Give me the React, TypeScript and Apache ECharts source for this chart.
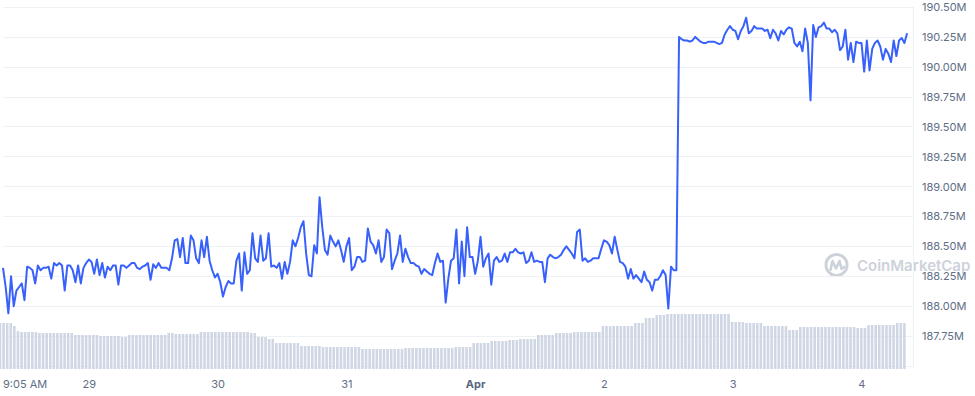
import React, { useEffect, useRef } from 'react';
import * as echarts from 'echarts';

// Time is measured in hours since Mar 28, 00:00
const START_HOUR = 7.93;
const X_MAX = 177.53;
const PRICE_STEP_HOURS = 0.5;
const VOLUME_STEP_HOURS = 2 / 3;

const xTickHours = [7.93, 24, 48, 72, 96, 120, 144, 168];
const xTickLabels = ['9:05 AM', '29', '30', '31', 'Apr', '2', '3', '4'];

const Y_MIN = 187.5;
const Y_MAX = 190.5;
const Y_INTERVAL = 0.25;

// Market cap (M USD), one reading every 30 minutes
const priceValues = [
  188.32, 188.16, 187.94, 188.25, 188.00, 188.13, 188.16, 188.19, 188.05, 188.33,
  188.32, 188.30, 188.19, 188.34, 188.30, 188.32, 188.32, 188.33, 188.23, 188.36,
  188.34, 188.36, 188.34, 188.13, 188.34, 188.34, 188.30, 188.20, 188.34, 188.19,
  188.32, 188.36, 188.39, 188.37, 188.27, 188.39, 188.26, 188.36, 188.24, 188.33,
  188.30, 188.34, 188.34, 188.18, 188.34, 188.34, 188.32, 188.34, 188.36, 188.36,
  188.32, 188.31, 188.33, 188.34, 188.36, 188.22, 188.35, 188.32, 188.36, 188.32,
  188.32, 188.32,
  188.30, 188.40, 188.55, 188.56, 188.41, 188.57, 188.36, 188.36, 188.59, 188.55,
  188.40, 188.36, 188.55, 188.41, 188.58, 188.38, 188.30, 188.24, 188.27, 188.20,
  188.08, 188.16, 188.21, 188.19, 188.19, 188.38, 188.44, 188.13, 188.45, 188.27,
  188.30, 188.61, 188.40, 188.37, 188.59, 188.38, 188.40, 188.61, 188.33, 188.34,
  188.32, 188.36, 188.23, 188.37, 188.27, 188.37, 188.55, 188.50, 188.57, 188.66,
  188.71, 188.44, 188.26, 188.25, 188.51, 188.44, 188.91, 188.66, 188.47,
  188.43, 188.59, 188.54, 188.50, 188.55, 188.47, 188.37, 188.50, 188.57, 188.30,
  188.33, 188.41, 188.41, 188.37, 188.38, 188.65, 188.54, 188.51, 188.44, 188.55,
  188.37, 188.41, 188.64, 188.61, 188.31, 188.38, 188.44, 188.59, 188.37, 188.48,
  188.41, 188.36, 188.36, 188.34, 188.33, 188.27, 188.31, 188.29, 188.27, 188.26,
  188.36, 188.44, 188.37, 188.38, 188.03, 188.23, 188.38, 188.40, 188.64, 188.19,
  188.54, 188.25, 188.66, 188.41, 188.41, 188.27, 188.38, 188.58, 188.33, 188.40,
  188.44, 188.18, 188.38, 188.41, 188.37, 188.38, 188.44, 188.37, 188.45, 188.45,
  188.48, 188.45, 188.44, 188.45, 188.36, 188.38, 188.45, 188.37, 188.38, 188.37,
  188.37, 188.20, 188.40, 188.43, 188.41, 188.40, 188.41, 188.43, 188.47, 188.50,
  188.47, 188.44, 188.40, 188.62, 188.64, 188.38, 188.40, 188.37, 188.38, 188.40,
  188.40, 188.40, 188.48, 188.55, 188.54, 188.51, 188.44, 188.58, 188.47, 188.37,
  188.36, 188.33, 188.23, 188.31, 188.23, 188.26, 188.23, 188.20, 188.29, 188.22,
  188.20, 188.13, 188.22, 188.22, 188.25, 188.30, 188.26, 187.98, 188.33, 188.30,
  188.30,
  190.25, 190.23, 190.22, 190.22, 190.21, 190.22, 190.25, 190.23, 190.21, 190.20,
  190.20, 190.21, 190.21, 190.21, 190.20, 190.19, 190.20, 190.27, 190.31, 190.34,
  190.31, 190.30, 190.23, 190.30, 190.34, 190.41, 190.28, 190.30, 190.34, 190.32,
  190.32, 190.32, 190.30, 190.31, 190.24, 190.31, 190.28, 190.22, 190.30, 190.27,
  190.31, 190.33, 190.32, 190.20, 190.17, 190.21, 190.13, 190.32, 190.20, 189.72,
  190.35, 190.25, 190.33, 190.34, 190.37, 190.32, 190.32, 190.29, 190.31, 190.28,
  190.14, 190.17, 190.31, 190.06, 190.20, 190.04, 190.21, 190.20, 190.20, 189.96,
  190.22, 189.97, 190.15, 190.20, 190.22, 190.17, 190.06, 190.15, 190.11, 190.04,
  190.22, 190.09, 190.22, 190.24, 190.20, 190.28,
];

// Volume (relative units), one bar every 40 minutes
const volumeValues = [
  46, 46, 46, 46, 43, 38, 37, 37, 37, 37,
  37, 36, 36, 36, 36, 36, 36, 36, 36, 36,
  36, 34, 34, 34, 34, 34, 34, 34, 33, 33,
  33, 33, 33, 33, 32, 32, 34, 34, 34, 34,
  34, 34, 34, 34, 34, 34, 34, 36, 36, 35,
  35, 35, 35, 35, 35, 35, 37, 37, 37, 37,
  37, 37, 37, 37, 37, 37, 37, 37, 37, 37,
  36, 36, 32, 32, 32, 30, 30, 26, 26, 26,
  26, 26, 26, 26, 23, 23, 23, 23, 23, 23,
  22, 22, 22, 22, 22, 22, 22, 22, 22, 22,
  22, 20, 20, 20, 20, 20, 20, 20, 20, 20,
  20, 20, 20, 21, 21, 21, 21, 21, 21, 21,
  21, 21, 21, 21, 21, 21, 21, 22, 22, 22,
  22, 22, 26, 26, 26, 26, 26, 28, 28, 28,
  28, 28, 29, 29, 29, 30, 30, 30, 30, 30,
  34, 34, 34, 34, 34, 36, 36, 36, 36, 36,
  37, 37, 37, 37, 37, 37, 37, 37, 43, 43,
  43, 43, 43, 43, 43, 43, 43, 46, 46, 46,
  51, 51, 51, 54, 54, 54, 55, 55, 55, 55,
  55, 55, 55, 55, 55, 55, 55, 55, 55, 55,
  55, 55, 55, 55, 47, 47, 47, 47, 46, 46,
  46, 46, 46, 43, 43, 43, 43, 43, 43, 43,
  39, 39, 39, 42, 42, 42, 42, 42, 42, 42,
  42, 42, 42, 42, 42, 42, 42, 42, 42, 41,
  41, 41, 44, 44, 44, 44, 44, 44, 44, 44,
  46, 46, 46,
];

const LINE_COLOR = '#3861fb';
const BAR_COLOR = '#cfd6e4';
const LABEL_COLOR = '#616e85';
const GRID_COLOR = '#eff2f5';
const WATERMARK_COLOR = '#cdd2da';
const FONT = 'Inter, "Noto Sans", sans-serif';

const App: React.FC = () => {
  const ref = useRef<HTMLDivElement>(null);

  useEffect(() => {
    if (!ref.current) return;
    const chart = echarts.init(ref.current, undefined, { renderer: 'svg' });

    const priceData = priceValues.map((v, i) => [START_HOUR + i * PRICE_STEP_HOURS, v]);
    const volumeData = volumeValues.map((v, i) => [START_HOUR + i * VOLUME_STEP_HOURS, v]);

    const labelFor = (value: number) => {
      let best = -1;
      let bestDiff = Infinity;
      xTickHours.forEach((h, i) => {
        const d = Math.abs(h - value);
        if (d < bestDiff) {
          bestDiff = d;
          best = i;
        }
      });
      if (best < 0 || bestDiff > 0.01) return '';
      const txt = xTickLabels[best];
      return txt === 'Apr' ? '{b|Apr}' : txt;
    };

    chart.setOption({
      animation: false,
      backgroundColor: '#ffffff',
      textStyle: { fontFamily: FONT },
      grid: [
        { left: 0, right: 62, top: 7, bottom: 30, containLabel: false },
        { left: 0, right: 62, bottom: 27, height: 100, containLabel: false },
      ],
      xAxis: [
        {
          type: 'value',
          gridIndex: 0,
          min: START_HOUR,
          max: X_MAX,
          axisLine: { show: false },
          axisTick: { show: false },
          splitLine: { show: false },
          axisLabel: {
            customValues: xTickHours,
            formatter: (v: number) => labelFor(v),
            color: LABEL_COLOR,
            fontSize: 11,
            fontFamily: FONT,
            margin: 12,
            alignMinLabel: 'left',
            showMinLabel: true,
            showMaxLabel: true,
            rich: {
              b: { fontWeight: 'bold', color: '#58667e', fontSize: 11, fontFamily: FONT },
            },
          },
        },
        {
          type: 'value',
          gridIndex: 1,
          min: START_HOUR,
          max: X_MAX,
          show: false,
        },
      ],
      yAxis: [
        {
          type: 'value',
          gridIndex: 0,
          position: 'right',
          min: Y_MIN,
          max: Y_MAX,
          interval: Y_INTERVAL,
          axisLine: { show: true, lineStyle: { color: GRID_COLOR } },
          axisTick: { show: false },
          splitLine: { show: true, lineStyle: { color: GRID_COLOR, width: 1 } },
          axisLabel: {
            showMinLabel: false,
            color: LABEL_COLOR,
            fontSize: 11,
            fontFamily: FONT,
            margin: 9,
            formatter: (v: number) => v.toFixed(2) + 'M',
          },
        },
        {
          type: 'value',
          gridIndex: 1,
          min: 0,
          max: 100,
          show: false,
        },
      ],
      series: [
        {
          type: 'bar',
          xAxisIndex: 1,
          yAxisIndex: 1,
          data: volumeData,
          barWidth: 2.6,
          itemStyle: { color: BAR_COLOR },
          silent: true,
          z: 1,
        },
        {
          type: 'line',
          xAxisIndex: 0,
          yAxisIndex: 0,
          data: priceData,
          showSymbol: false,
          symbol: 'none',
          lineStyle: { color: LINE_COLOR, width: 2, join: 'round' },
          itemStyle: { color: LINE_COLOR },
          z: 3,
        },
      ],
      graphic: [
        {
          type: 'circle',
          shape: { cx: 836.5, cy: 265, r: 10.5 },
          style: { fill: 'none', stroke: WATERMARK_COLOR, lineWidth: 3 },
          silent: true,
          z: 0,
        },
        {
          type: 'polyline',
          shape: {
            points: [
              [830.5, 270],
              [832.5, 261],
              [836, 268.5],
              [839.5, 261],
              [841.5, 269],
              [844, 267],
            ],
          },
          style: { fill: 'none', stroke: WATERMARK_COLOR, lineWidth: 2.6, lineJoin: 'round', lineCap: 'round' },
          silent: true,
          z: 0,
        },
        {
          type: 'text',
          x: 857,
          y: 265,
          style: {
            text: 'CoinMarketCap',
            fill: WATERMARK_COLOR,
            font: '600 15px Inter, "Noto Sans", sans-serif',
            verticalAlign: 'middle',
            align: 'left',
          },
          silent: true,
          z: 0,
        },
      ],
    });

    return () => {
      chart.dispose();
    };
  }, []);

  return <div ref={ref} style={{ width: 975, height: 396, position: 'absolute', left: 0, top: 0 }} />;
};

export default App;
